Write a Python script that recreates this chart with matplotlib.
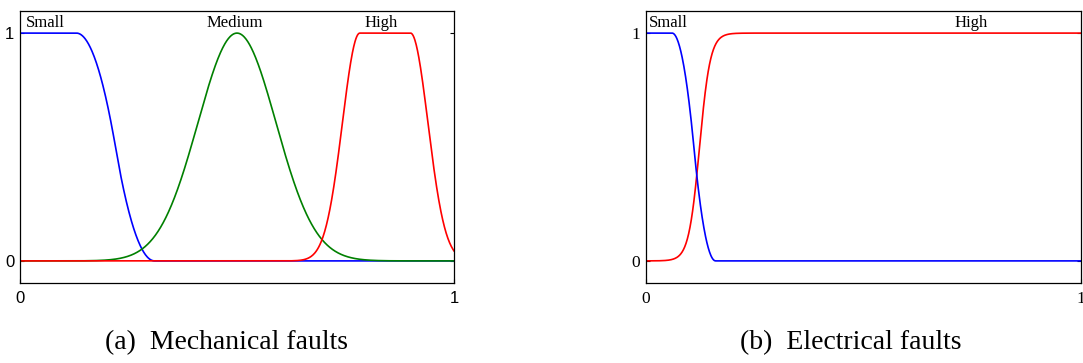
import numpy as np
import matplotlib
matplotlib.use("Agg")
import matplotlib.pyplot as plt

# membership function parameters
mech_labels = ["Small", "Medium", "High"]
mech_small_zmf = [0.13, 0.31]            # z-shaped: start, end of the fall
mech_medium_gauss = [0.50, 0.09]         # centre, sigma
mech_high_gauss2 = [0.04, 0.783, 0.04, 0.90]  # sigma1, c1, sigma2, c2

elec_labels = ["Small", "High"]
elec_small_zmf = [0.06, 0.16]
elec_high_sigmoid = [80.0, 0.123]        # slope, centre

mech_label_x = [0.014, 0.494, 0.833]
elec_label_x = [0.007, 0.71]

x = np.linspace(0, 1, 1001)


def zmf(x, a, b):
    y = np.ones_like(x)
    m = (a + b) / 2
    i1 = (x > a) & (x <= m)
    i2 = (x > m) & (x < b)
    y[i1] = 1 - 2 * ((x[i1] - a) / (b - a)) ** 2
    y[i2] = 2 * ((x[i2] - b) / (b - a)) ** 2
    y[x >= b] = 0
    return y


def gaussmf(x, c, s):
    return np.exp(-((x - c) ** 2) / (2 * s ** 2))


def gauss2mf(x, s1, c1, s2, c2):
    y = np.ones_like(x)
    y[x < c1] = gaussmf(x[x < c1], c1, s1)
    y[x > c2] = gaussmf(x[x > c2], c2, s2)
    return y


def sigmf(x, a, c):
    return 1 / (1 + np.exp(-a * (x - c)))


fig = plt.figure(figsize=(10.83, 3.63), dpi=100)
ax1 = fig.add_axes([0.01847, 0.2204, 0.4007, 0.7493])
ax2 = fig.add_axes([0.5965, 0.2204, 0.4017, 0.7493])

lw = 1.2
ax1.plot(x, zmf(x, *mech_small_zmf), color="#0000ff", lw=lw)
ax1.plot(x, gaussmf(x, *mech_medium_gauss), color="#008000", lw=lw)
ax1.plot(x, gauss2mf(x, *mech_high_gauss2), color="#ff0000", lw=lw)

ax2.plot(x, sigmf(x, *elec_high_sigmoid), color="#ff0000", lw=lw)
ax2.plot(x, zmf(x, *elec_small_zmf), color="#0000ff", lw=lw)

serif = "Liberation Serif"
for i, lab in enumerate(mech_labels):
    ha = "left" if i == 0 else "center"
    ax1.text(mech_label_x[i], 1.027, lab, ha=ha, va="baseline",
             family=serif, fontsize=12)
for i, lab in enumerate(elec_labels):
    ax2.text(elec_label_x[i], 1.027, lab, ha="left", va="baseline",
             family=serif, fontsize=12)

for ax in (ax1, ax2):
    ax.set_xlim(0, 1)
    ax.set_ylim(-0.097, 1.097)
    ax.set_xticks([0, 1])
    ax.set_yticks([0, 1])
    ax.tick_params(direction="in", length=3, width=0.8, right=True,
                   labelsize=12, pad=4)
    ax.tick_params(axis="x", pad=6)
    for sp in ax.spines.values():
        sp.set_linewidth(0.9)

ax1.set_xticklabels(["0", "1"], family="Liberation Sans")
ax1.set_yticklabels(["0", "1"], family="Liberation Sans")
ax2.set_xticklabels(["0", "1"], family=serif, fontsize=12.5)
ax2.set_yticklabels(["0", "1"], family=serif, fontsize=12.5)

fig.text(0.2087, 0.055, "(a)  Mechanical faults", ha="center", va="center",
         family=serif, fontsize=20)
fig.text(0.786, 0.055, "(b)  Electrical faults", ha="center", va="center",
         family=serif, fontsize=20)

fig.savefig("out.png", dpi=100)
